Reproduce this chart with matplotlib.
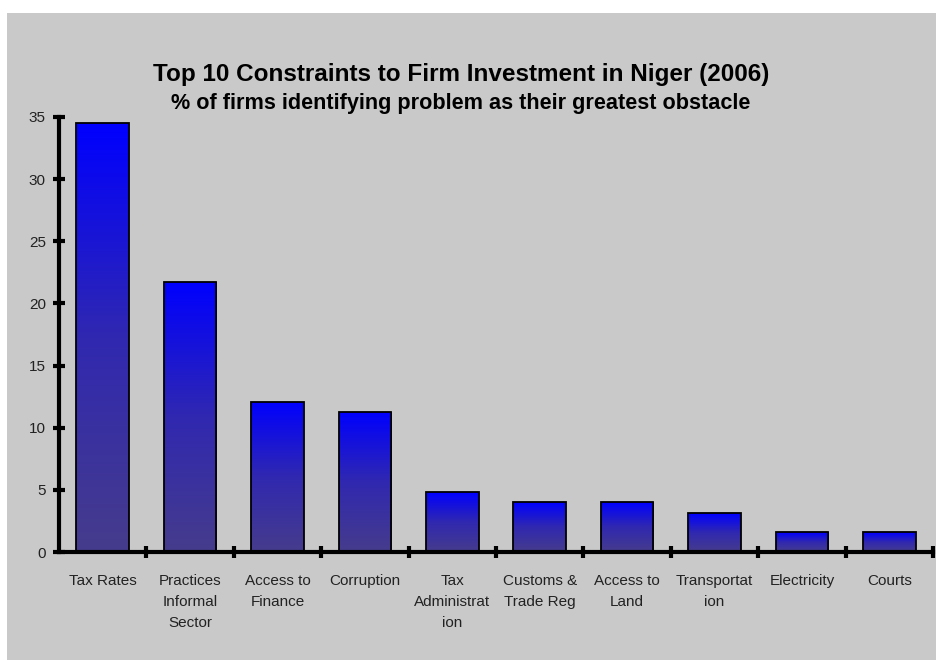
import numpy as np
import matplotlib.pyplot as plt
from matplotlib.colors import LinearSegmentedColormap

# 尼日尔企业投资十大制约因素 (2006)
categories = ["Tax Rates", "Practices\nInformal\nSector", "Access to\nFinance", "Corruption",
              "Tax\nAdministrat\nion", "Customs &\nTrade Reg", "Access to\nLand",
              "Transportat\nion", "Electricity", "Courts"]
values = [34.5, 21.7, 12.1, 11.3, 4.8, 4.0, 4.0, 3.1, 1.6, 1.6]
yticks = [0, 5, 10, 15, 20, 25, 30, 35]

plt.rcParams['font.family'] = ['Liberation Sans', 'DejaVu Sans']

fig = plt.figure(figsize=(9.36, 6.6), dpi=100)
fig.patch.set_facecolor('white')
# 灰色背景区域
fig.patches.append(plt.Rectangle((7 / 936, 0), 1, 1 - 13 / 660, transform=fig.transFigure,
                                 facecolor='#c9c9c9', edgecolor='none', zorder=-5))

ax = fig.add_axes([59 / 936, 1 - 552 / 660, 874 / 936, 435 / 660])
ax.set_facecolor('none')

x = np.arange(len(categories))
bars = ax.bar(x, values, width=0.6, facecolor='none', edgecolor='black', linewidth=1.3, zorder=3)

# 每根柱子的渐变色：顶部亮蓝，底部紫蓝
cmap = LinearSegmentedColormap.from_list('grad', ['#463c8c', '#3028b0', '#0000ff'])
grad = np.linspace(0, 1, 256).reshape(-1, 1)
for b in bars:
    x0, w, h = b.get_x(), b.get_width(), b.get_height()
    im = ax.imshow(grad, extent=(x0, x0 + w, 0, h), origin='lower', cmap=cmap,
                   aspect='auto', zorder=2)
    im.set_clip_path(b)

ax.set_xlim(-0.5, len(categories) - 0.5)
ax.set_ylim(0, 35)
ax.set_yticks(yticks)
ax.set_xticks(x)
ax.set_xticklabels(categories, fontsize=11, linespacing=1.62)
ax.set_xticks(np.arange(len(categories)) + 0.5, minor=True)

ax.tick_params(axis='x', which='major', length=0, pad=16, colors='#222222')
ax.tick_params(axis='x', which='minor', length=9, width=3, direction='inout')
ax.tick_params(axis='y', length=9, width=3, direction='inout', pad=5, labelsize=11,
               labelcolor='#222222')

for s in ['top', 'right']:
    ax.spines[s].set_visible(False)
for s in ['left', 'bottom']:
    ax.spines[s].set_linewidth(3)

fig.text(461 / 936, 1 - 74 / 660, "Top 10 Constraints to Firm Investment in Niger (2006)",
         ha='center', va='center', fontsize=17.5, fontweight='bold')
fig.text(461 / 936, 1 - 104 / 660, "% of firms identifying problem as their greatest obstacle",
         ha='center', va='center', fontsize=15.6, fontweight='bold')

fig.savefig('out.png', dpi=100)
